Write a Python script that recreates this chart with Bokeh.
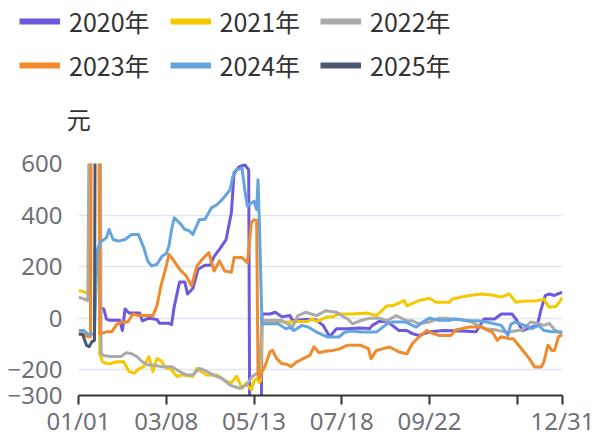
from bokeh.plotting import figure
from bokeh.models import Range1d, FixedTicker, Legend, LegendItem, Label
from bokeh.embed import file_html
from bokeh.resources import INLINE

FONT_CJK = "Noto Sans CJK SC"
FONT_NUM = "Noto Sans"

series_names = ["2020年", "2021年", "2022年", "2023年", "2024年", "2025年"]
series_colors = ["#6F58E0", "#F5C800", "#AAAAAA", "#F08A2B", "#64A5DF", "#4B5670"]
unit_text = "元"

x_tick_days = [0, 66, 132, 198, 264, 330, 364]
x_tick_labels = ["01/01", "03/08", "05/13", "07/18", "09/22", "", "12/31"]
y_tick_values = [-300, -200, 0, 200, 400, 600]
y_grid_values = [-200, 0, 200, 400, 600]

# (day of year, value in 元)
s2020 = [(16, 40), (19, 36), (21, -3), (23, -8), (31, -8), (33, -48), (35, 36), (38, 20), (46, 20),
         (48, -10), (53, 0), (59, -5), (61, -20), (68, -20), (70, -25), (72, 45), (76, 140), (80, 140),
         (82, 94), (86, 115), (90, 190), (95, 205), (99, 205), (102, 240), (106, 267), (111, 305),
         (115, 410), (117, 564), (121, 588), (125, 595), (128, 575), (129, -700), (137, -700), (138, 16),
         (144, 16), (148, 23), (153, 5), (159, 10), (161, -9), (170, -5), (178, -5), (184, -28),
         (189, -72), (194, -41), (202, -41), (211, -38), (219, -40), (221, -28), (226, -13), (232, -13),
         (236, -28), (241, -48), (247, -48), (251, -60), (256, -67), (264, -53), (275, -48), (287, -50),
         (299, -53), (305, -3), (313, -3), (318, 16), (326, 16), (329, -3), (334, -48), (341, -34),
         (345, -28), (348, 36), (351, 87), (354, 94), (358, 88), (362, 97), (364, 100)]

s2021 = [(0, 106), (3, 104), (5, 100), (8, 94), (9, 1500), (15, 1500), (16, -138), (18, -169), (21, -176),
         (24, -176), (29, -169), (34, -169), (38, -207), (42, -213), (46, -195), (49, -188), (53, -149),
         (56, -207), (59, -157), (62, -165), (66, -195), (69, -195), (74, -226), (78, -220), (86, -226),
         (89, -195), (96, -220), (104, -220), (111, -245), (115, -250), (119, -226), (123, -272),
         (126, -253), (130, -278), (132, -245), (134, -234), (136, -250), (137, -240), (138, -15),
         (142, -22), (146, -22), (149, -15), (159, -15), (164, -13), (172, -13), (176, -3), (179, -13),
         (187, 5), (191, 5), (196, 16), (206, 16), (217, 20), (224, 10), (232, 48), (236, 48), (245, 68),
         (247, 48), (256, 68), (264, 77), (269, 62), (279, 62), (281, 74), (288, 82), (293, 87),
         (303, 94), (311, 90), (318, 82), (324, 94), (329, 62), (334, 66), (345, 68), (350, 74),
         (354, 42), (359, 45), (364, 80)]

s2022 = [(0, 81), (4, 75), (7, 68), (9, 1500), (16, 1500), (17, -138), (19, -145), (24, -149), (32, -149),
         (36, -134), (40, -138), (44, -149), (48, -169), (52, -182), (56, -182), (62, -188), (70, -188),
         (76, -207), (81, -220), (86, -220), (91, -195), (96, -205), (101, -220), (108, -234),
         (114, -260), (121, -272), (126, -260), (131, -225), (134, -215), (136, -207), (138, -9),
         (153, -9), (161, -34), (165, 10), (171, 23), (179, 10), (186, 29), (194, 23), (198, 10),
         (203, -5), (206, -22), (212, -10), (219, 0), (226, 0), (232, -10), (239, 10), (247, -10),
         (251, -10), (256, -22), (264, -15), (271, 0), (277, 0), (281, -3), (288, -5), (296, -15),
         (300, -28), (306, -41), (313, -45), (316, -48), (322, -55), (334, -45), (340, -15), (345, -20),
         (350, -28), (354, -20), (358, -45), (361, -55), (364, -60)]

s2023 = [(0, -63), (4, -63), (7, -72), (9, -72), (10, 1500), (15, 1500), (16, -61), (21, -53), (25, -53),
         (29, -22), (33, -15), (37, -15), (41, 16), (45, 10), (52, 10), (56, 10), (59, 48), (62, 125),
         (66, 202), (68, 247), (71, 228), (76, 190), (81, 164), (85, 125), (89, 202), (93, 228),
         (98, 254), (102, 183), (106, 222), (110, 183), (115, 178), (117, 235), (123, 235), (127, 215),
         (130, 370), (132, 382), (134, 380), (135, -220), (136, -234), (138, -207), (140, -190),
         (144, -130), (146, -125), (149, -157), (153, -176), (157, -180), (160, -188), (164, -170),
         (169, -157), (174, -144), (177, -111), (181, -134), (186, -128), (191, -125), (196, -120),
         (202, -105), (206, -105), (212, -105), (218, -118), (220, -157), (224, -125), (234, -112),
         (241, -131), (247, -138), (251, -99), (256, -73), (262, -48), (267, -60), (271, -67),
         (280, -67), (284, -45), (288, -41), (294, -34), (303, -34), (308, -48), (311, -53), (315, -86),
         (318, -72), (324, -80), (327, -80), (331, -105), (335, -131), (339, -157), (343, -189),
         (348, -189), (350, -170), (353, -105), (356, -125), (358, -125), (361, -72), (364, -65)]

s2024 = [(0, -48), (4, -48), (7, -61), (12, -61), (14, 260), (16, 293), (21, 312), (23, 344), (26, 305),
         (30, 299), (35, 305), (40, 325), (45, 325), (49, 275), (52, 222), (55, 203), (59, 209),
         (63, 241), (66, 250), (68, 280), (70, 344), (72, 389), (76, 370), (80, 344), (83, 340),
         (86, 325), (91, 383), (95, 383), (100, 428), (104, 440), (108, 460), (111, 479), (114, 498),
         (116, 549), (119, 575), (123, 582), (125, 500), (127, 434), (130, 447), (132, 453), (134, 421),
         (135, 537), (136, 376), (138, -22), (145, -22), (150, -22), (156, -41), (159, -36), (162, -48),
         (168, -28), (173, -35), (179, -54), (187, -73), (196, -73), (200, -55), (206, -50), (212, -54),
         (224, -54), (232, -22), (236, -15), (246, -15), (254, -35), (259, -15), (264, 0), (271, -8),
         (279, -8), (283, -3), (292, -10), (300, -10), (307, -15), (318, -28), (323, -67), (325, -25),
         (328, -15), (334, -25), (341, -41), (346, -28), (350, -48), (356, -53), (362, -53), (364, -55)]

s2025 = [(0, -61), (3, -61), (6, -105), (8, -111), (10, -92), (12, -86), (13, 1500)]

all_series = [s2020, s2021, s2022, s2023, s2024, s2025]

# ---------------- header (legend + unit), its own root ----------------
HEAD_H = 140
head = figure(width=600, height=HEAD_H, x_range=Range1d(0, 600), y_range=Range1d(HEAD_H, 0),
              output_backend="svg", toolbar_location=None,
              x_axis_location=None, y_axis_location=None,
              min_border_left=0, min_border_right=0, min_border_top=0, min_border_bottom=0)
head.outline_line_color = None
head.xgrid.visible = False
head.ygrid.visible = False
head.background_fill_color = "white"
head.border_fill_color = "white"

row_items = [[], []]
for i, (name, color) in enumerate(zip(series_names, series_colors)):
    # swatch renderer: its points lie outside the header range, only the legend shows it
    swatch = head.line(x=[-5000, -4999], y=[-5000, -5000], line_width=6, line_color=color)
    row_items[i // 3].append(LegendItem(label=name, renderers=[swatch]))

for items, vy in zip(row_items, [97, 53]):
    lg = Legend(items=items, location=(19, vy), orientation="horizontal",
                padding=0, margin=0, spacing=20, glyph_width=41, glyph_height=44,
                label_standoff=9, label_height=44,
                label_text_font=FONT_CJK, label_text_font_size="25px", label_text_color="#333333",
                label_text_baseline="middle",
                background_fill_alpha=0, border_line_alpha=0)
    head.add_layout(lg)

head.add_layout(Label(x=78.3, y=118, text=unit_text, text_align="center", text_baseline="middle",
                      text_font=FONT_CJK, text_font_size="24px", text_color="#333333"))

# ---------------- main chart ----------------
p = figure(width=600, height=439 - HEAD_H, x_range=Range1d(0, 364), y_range=Range1d(-300, 600),
           output_backend="svg", toolbar_location=None,
           min_border_left=78, min_border_right=38, min_border_top=23, min_border_bottom=42)
p.outline_line_color = None
p.background_fill_color = "white"
p.border_fill_color = "white"

p.xgrid.visible = False
p.ygrid.ticker = FixedTicker(ticks=y_grid_values)
p.ygrid.grid_line_color = "#E0E6F1"
p.ygrid.grid_line_width = 1.5

xa = p.xaxis[0]
xa.ticker = FixedTicker(ticks=x_tick_days)
xa.major_label_overrides = {d: lab for d, lab in zip(x_tick_days, x_tick_labels)}
xa.axis_line_color = "#333333"
xa.axis_line_width = 2
xa.major_tick_line_color = "#333333"
xa.major_tick_line_width = 2
xa.major_tick_out = 9
xa.major_tick_in = 0
xa.minor_tick_line_color = None
xa.major_label_text_font = FONT_NUM
xa.major_label_text_font_size = "24px"
xa.major_label_text_color = "#6E7079"
xa.major_label_standoff = -1

ya = p.yaxis[0]
ya.ticker = FixedTicker(ticks=y_tick_values)
ya.axis_line_color = None
ya.major_tick_line_color = None
ya.minor_tick_line_color = None
ya.major_tick_out = 0
ya.major_tick_in = 0
ya.major_label_text_font = FONT_NUM
ya.major_label_text_font_size = "24px"
ya.major_label_text_color = "#6E7079"
ya.major_label_standoff = 16

for name, color, s in zip(series_names, series_colors, all_series):
    xs = [d for d, v in s]
    ys = [v for d, v in s]
    p.line(xs, ys, line_width=3, line_color=color, line_join="round")

open("out.html", "w").write(file_html([head, p], INLINE))
